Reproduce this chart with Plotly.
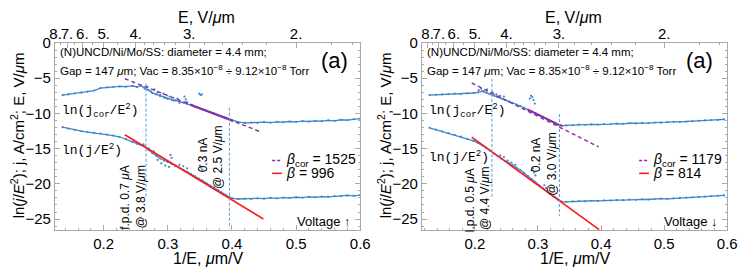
import plotly.graph_objects as go
import numpy as np

W, H = 747, 269

# ---------------- data: left panel (Voltage up) ----------------
L_x = [0.136,0.145,0.155,0.165,0.175,0.185,0.195,0.205,0.215,0.225,0.235,0.245,
       0.252,0.258,0.264,0.270,0.276,0.282,0.288,0.294,0.300,0.306,0.312,0.318,0.324,
       0.330,0.336,0.342,0.348,0.354,0.360,0.366,0.372,0.378,0.384,0.390,0.396,
       0.401,
       0.41,0.42,0.43,0.44,0.45,0.46,0.47,0.48,0.49,0.50,0.51,0.52,0.53,0.54,0.55,
       0.56,0.57,0.58,0.59,0.60]
L_cor = [-7.40,-7.30,-7.15,-7.05,-6.90,-6.75,-6.40,-6.30,-6.25,-6.15,-6.20,-6.10,
         -6.25,-6.05,-6.45,-6.70,-7.10,-7.30,-7.55,-7.75,-7.95,-8.05,-8.15,-8.30,-8.45,
         -8.60,-8.80,-9.00,-9.20,-9.40,-9.60,-9.80,-10.00,-10.20,-10.40,-10.60,-10.80,
         -11.05,
         -11.25,-11.35,-11.30,-11.35,-11.25,-11.30,-11.20,-11.25,-11.15,-11.20,-11.10,
         -11.15,-11.05,-11.10,-11.00,-11.05,-10.90,-10.95,-10.80,-10.75]
L_j = [-11.95,-12.15,-12.35,-12.50,-12.65,-12.75,-12.85,-13.00,-13.15,-13.35,-13.65,-14.05,
       -14.30,-14.50,-14.70,-15.20,-15.65,-16.00,-16.40,-16.70,-16.90,-17.15,-17.40,-17.70,
       -18.00,-18.30,-18.60,-18.90,-19.25,-19.55,-19.90,-20.25,-20.55,-20.90,-21.25,-21.55,
       -21.90,
       -22.05,
       -22.15,-22.10,-22.15,-22.05,-22.10,-22.00,-22.05,-21.95,-22.00,-21.90,-21.95,
       -21.85,-21.90,-21.80,-21.85,-21.75,-21.75,-21.65,-21.70,-21.60]
L_cor_sc_x = [0.268,0.274,0.279,0.284,0.288,0.293,0.297,0.303,0.309,0.315,0.318,0.326,0.328,0.330,0.349,0.351,0.353]
L_cor_sc_y = [-6.2,-6.9,-6.6,-7.0,-7.4,-7.2,-7.8,-7.6,-8.2,-7.9,-8.5,-7.6,-8.0,-8.4,-7.2,-7.4,-7.3]
L_j_sc_x = [0.262,0.270,0.278,0.284,0.290,0.296,0.302,0.304,0.306,0.312,0.318,0.324,0.330,0.350,0.352,0.354]
L_j_sc_y = [-14.4,-15.0,-15.4,-16.6,-17.1,-17.4,-17.6,-15.9,-16.3,-17.5,-17.3,-17.5,-17.8,-17.4,-17.7,-18.0]
L_fitcor_x = [0.233, 0.446]; L_fitcor_y = [-5.08, -12.67]
L_fitj_x = [0.233, 0.449];   L_fitj_y = [-13.03, -24.99]
L_fit_range = [0.336, 0.401]
L_vx = [0.266, 0.396]; L_vtop = [-5.77, -9.2]; L_vbot = [-21.9, -26.3]

# ---------------- data: right panel (Voltage down) ----------------
R_x = [0.128,0.138,0.148,0.158,0.168,0.178,0.188,0.198,0.205,0.212,0.218,
       0.224,0.230,0.236,0.242,0.248,0.254,0.260,0.266,0.272,0.278,0.284,0.290,0.296,
       0.302,0.308,0.314,0.320,0.326,0.332,0.338,
       0.345,0.355,0.365,0.375,0.385,0.395,0.405,0.415,0.425,0.435,0.445,0.455,0.465,
       0.475,0.485,0.495,0.505,0.515,0.525,0.535,0.545,0.555,0.565,0.575,0.585,0.595]
R_cor = [-7.40,-7.35,-7.30,-7.25,-7.20,-7.25,-7.15,-7.10,-7.00,-6.85,-7.05,
         -7.25,-7.45,-7.65,-7.85,-8.10,-8.30,-8.55,-8.75,-8.95,-9.20,-9.45,-9.70,-9.95,
         -10.25,-10.50,-10.80,-11.05,-11.30,-11.60,-11.75,
         -11.70,-11.65,-11.60,-11.62,-11.55,-11.58,-11.50,-11.52,-11.45,-11.48,-11.40,
         -11.42,-11.35,-11.37,-11.30,-11.32,-11.25,-11.20,-11.22,-11.15,-11.10,-11.05,
         -11.00,-10.95,-10.92,-10.85]
R_j = [-12.05,-12.30,-12.55,-12.80,-13.05,-13.30,-13.60,-13.90,-14.20,-14.55,-14.90,
       -15.30,-15.70,-16.05,-16.40,-16.75,-17.05,-17.35,-17.70,-18.05,-18.45,-18.90,-19.35,
       -19.80,-20.25,-20.65,-21.05,-21.45,-21.85,-22.25,-22.55,
       -22.55,-22.50,-22.45,-22.48,-22.40,-22.42,-22.35,-22.38,-22.30,-22.32,-22.25,
       -22.27,-22.20,-22.22,-22.15,-22.10,-22.12,-22.05,-22.00,-21.95,-21.90,-21.85,
       -21.80,-21.75,-21.70,-21.65]
R_cor_sc_x = [0.206,0.210,0.214,0.219,0.228,0.234,0.240,0.246,0.287,0.289,0.291,0.293,0.295]
R_cor_sc_y = [-6.7,-6.5,-6.9,-6.6,-7.0,-7.3,-7.5,-7.6,-7.9,-7.5,-7.7,-8.1,-8.6]
R_j_sc_x = [0.240,0.246,0.252,0.258,0.264,0.290,0.292,0.294,0.296,0.310,0.313]
R_j_sc_y = [-16.0,-16.2,-16.7,-17.0,-17.3,-18.1,-17.8,-18.4,-18.8,-20.2,-20.6]
R_fitcor_x = [0.195, 0.396]; R_fitcor_y = [-5.68, -14.74]
R_fitj_x = [0.195, 0.397];   R_fitj_y = [-13.36, -26.5]
R_fit_range = [0.280, 0.338]
R_vx = [0.227, 0.334]; R_vtop = [-5.1, -10.1]; R_vbot = [-21.9, -24.6]

# axis ticks
x_ticks = [0.2, 0.3, 0.4, 0.5, 0.6]
y_ticks = [0, -5, -10, -15, -20, -25]
E_ticks = [8, 7, 6, 5, 4, 3, 2]
E_ticktext = ["8.", "7.", "6.", "5.", "4.", "3.", "2."]
E_minor = [7.5, 6.5, 5.5, 4.5, 3.8, 3.6, 3.4, 3.2, 2.8, 2.6, 2.4, 2.2, 1.8, 1.7]

BLUE = "#3f86c8"
PURPLE = "#8e2aa3"
RED = "#ff1a1a"
VLINE = "#5b9bd5"
FRAME = "#a8a8a8"
FONT = "Liberation Sans"
MONO = "Liberation Mono"

fig = go.Figure()

def panel(xs, cor, jj, csx, csy, jsx, jsy, fcx, fcy, fjx, fjy, frange, vx, vtop, vbot, xa, ya):
    xs = np.array(xs); cor = np.array(cor); jj = np.array(jj)
    for yy in (cor, jj):
        fig.add_trace(go.Scatter(x=xs, y=yy, mode="lines+markers", xaxis=xa, yaxis=ya,
                                 line=dict(color=BLUE, width=1.3), marker=dict(color=BLUE, size=2.2),
                                 showlegend=False, hoverinfo="skip"))
    for sx, sy in ((csx, csy), (jsx, jsy)):
        fig.add_trace(go.Scatter(x=sx, y=sy, mode="markers", xaxis=xa, yaxis=ya,
                                 marker=dict(color=BLUE, size=2.2), showlegend=False, hoverinfo="skip"))
    m = (xs >= frange[0]) & (xs <= frange[1])
    fig.add_trace(go.Scatter(x=xs[m], y=cor[m], mode="lines", xaxis=xa, yaxis=ya,
                             line=dict(color=PURPLE, width=2), showlegend=False, hoverinfo="skip"))
    fig.add_trace(go.Scatter(x=fcx, y=fcy, mode="lines", xaxis=xa, yaxis=ya,
                             line=dict(color=PURPLE, width=1.4, dash="4px,3px"), showlegend=False, hoverinfo="skip"))
    fig.add_trace(go.Scatter(x=fjx, y=fjy, mode="lines", xaxis=xa, yaxis=ya,
                             line=dict(color=RED, width=1.6), showlegend=False, hoverinfo="skip"))
    for i in range(len(vx)):
        fig.add_trace(go.Scatter(x=[vx[i], vx[i]], y=[vtop[i], vbot[i]], mode="lines", xaxis=xa, yaxis=ya,
                                 line=dict(color=VLINE, width=1, dash="3px,2px"), showlegend=False, hoverinfo="skip"))

panel(L_x, L_cor, L_j, L_cor_sc_x, L_cor_sc_y, L_j_sc_x, L_j_sc_y, L_fitcor_x, L_fitcor_y,
      L_fitj_x, L_fitj_y, L_fit_range, L_vx, L_vtop, L_vbot, "x", "y")
panel(R_x, R_cor, R_j, R_cor_sc_x, R_cor_sc_y, R_j_sc_x, R_j_sc_y, R_fitcor_x, R_fitcor_y,
      R_fitj_x, R_fitj_y, R_fit_range, R_vx, R_vtop, R_vbot, "x2", "y2")

# invisible traces to activate top axes
for xa, ya in (("x3", "y"), ("x4", "y2"), ("x5", "y"), ("x6", "y2")):
    fig.add_trace(go.Scatter(x=[0.3], y=[-30], mode="markers", xaxis=xa, yaxis=ya,
                             marker=dict(opacity=0), showlegend=False, hoverinfo="skip"))

def px(x): return x / W
def py(y): return 1 - y / H

dom_L = [px(50), px(362)]
dom_R = [px(425), px(737)]
dom_Y = [py(229), py(35)]
rng_L = [0.124, 0.6]
rng_R = [0.116, 0.6]
rng_Y = [-26.6, 0.02]

tickfont = dict(family=FONT, size=15, color="black")

def xbottom(dom, rng, anchor):
    return dict(domain=dom, range=rng, anchor=anchor, tickvals=x_ticks,
                ticktext=[f"{v:.1f}" for v in x_ticks], ticks="inside", ticklen=5, tickangle=0,
                tickcolor=FRAME, showline=True, linecolor=FRAME, linewidth=1, mirror=True,
                showgrid=False, zeroline=False, tickfont=tickfont,
                minor=dict(ticks="inside", dtick=0.02, ticklen=2.5, tickcolor=FRAME))

def xtop(rng, over, anchor, minor=False):
    if minor:
        return dict(range=rng, overlaying=over, anchor=anchor, side="top",
                    tickvals=[1 / e for e in E_minor], ticks="inside", ticklen=2.5,
                    tickcolor=FRAME, showticklabels=False, showline=False, showgrid=False, zeroline=False)
    return dict(range=rng, overlaying=over, anchor=anchor, side="top", tickangle=0,
                tickvals=[1 / e for e in E_ticks], ticktext=E_ticktext, ticks="inside", ticklen=5,
                tickcolor=FRAME, showline=False, showgrid=False, zeroline=False, tickfont=tickfont)

def yaxis(anchor):
    return dict(domain=dom_Y, range=rng_Y, anchor=anchor, tickvals=y_ticks,
                ticktext=["0"] + [f"\u2212{abs(v)}" for v in y_ticks[1:]], ticks="inside", ticklen=5,
                tickcolor=FRAME, showline=True, linecolor=FRAME, linewidth=1, mirror="ticks",
                showgrid=False, zeroline=False, tickfont=tickfont,
                minor=dict(ticks="inside", dtick=1, ticklen=2.5, tickcolor=FRAME))

fig.update_layout(
    width=W, height=H, margin=dict(l=0, r=0, t=0, b=0),
    paper_bgcolor="white", plot_bgcolor="white",
    xaxis=xbottom(dom_L, rng_L, "y"),
    xaxis2=xbottom(dom_R, rng_R, "y2"),
    xaxis3=xtop(rng_L, "x", "y"),
    xaxis4=xtop(rng_R, "x2", "y2"),
    xaxis5=xtop(rng_L, "x", "y", minor=True),
    xaxis6=xtop(rng_R, "x2", "y2", minor=True),
    yaxis=yaxis("x"),
    yaxis2=yaxis("x2"),
)

ann = []
def A(x, y, text, size=10, family=FONT, xanchor="left", angle=0, color="black"):
    ann.append(dict(x=px(x), y=py(y), xref="paper", yref="paper", text=text, showarrow=False,
                    xanchor=xanchor, yanchor="middle", textangle=angle,
                    font=dict(family=family, size=size, color=color)))

shapes = []
def legend_line(x0, x1, y, color, dash):
    shapes.append(dict(type="line", xref="paper", yref="paper", x0=px(x0), x1=px(x1), y0=py(y), y1=py(y),
                       line=dict(color=color, width=1.6, dash=dash)))

ytitle = "ln(<i>j</i>/<i>E</i><sup>2</sup>); j, A/cm<sup>2</sup>; E, V/<i>μ</i>m"
box1 = "(N)UNCD/Ni/Mo/SS: diameter = 4.4 mm;"
box2 = "Gap = 147 <i>μ</i>m; Vac = 8.35×10<sup>−8</sup> ÷ 9.12×10<sup>−8</sup> Torr"

for off, d in ((0, dict(t1="f.p.d. 0.7 <i>μ</i>A", t2="@ 3.8 V/<i>μ</i>m", t3="0.3 nA", t4="@ 2.5 V/<i>μ</i>m",
                        b1="1525", b2="996", volt="Voltage ↑", jy=145,
                        p1=(122, 195), p2=(138, 195), p3=(201.7, 151), p4=(216.7, 154))),
               (375, dict(t1="l.p.d. 0.5 <i>μ</i>A", t2="@ 4.4 V/<i>μ</i>m", t3="0.2 nA", t4="@ 3.0 V/<i>μ</i>m",
                          b1="1179", b2="814", volt="Voltage ↓", jy=153,
                          p1=(475 - 375, 198), p2=(490 - 375, 196), p3=(542 - 375, 151), p4=(558 - 375, 161)))):
    A(12 + off, 131, ytitle, size=15, xanchor="center", angle=-90)
    A(205 + off, 9, "E, V/<i>μ</i>m", size=16, xanchor="center")
    A(206 + off, 258, "1/E, <i>μ</i>m/V", size=16, xanchor="center")
    A(53 + off, 45, box1, size=11.5)
    A(53 + off, 63, box2, size=11.5)
    A(336 + off - (0 if off == 0 else 2), 53, "(a)", size=22, xanchor="center")
    A(55 + off, 105, "ln(j<sub>cor</sub>/E<sup>2</sup>)", size=13, family=MONO)
    A(55 + off, d["jy"], "ln(j/E<sup>2</sup>)", size=13, family=MONO)
    A(d["p1"][0] + off, d["p1"][1], d["t1"], size=12, xanchor="center", angle=-90)
    A(d["p2"][0] + off, d["p2"][1], d["t2"], size=12, xanchor="center", angle=-90)
    A(d["p3"][0] + off, d["p3"][1], d["t3"], size=12, xanchor="center", angle=-90)
    A(d["p4"][0] + off, d["p4"][1], d["t4"], size=12, xanchor="center", angle=-90)
    legend_line(272 + off, 282 + off, 156.7, PURPLE, "3px,2px")
    legend_line(272 + off, 282 + off, 170, RED, "solid")
    A(284 + off, 156.7, "<i>β</i><sub>cor</sub> = " + d["b1"], size=14)
    A(284 + off, 170, "<i>β</i> = " + d["b2"], size=14)
    A(355 + off, 220, d["volt"], size=13, xanchor="right")

fig.update_layout(annotations=ann, shapes=shapes)
fig.write_html("out.html", config={"displayModeBar": False},
               post_script="document.body.style.margin='0';document.body.style.overflow='hidden';")
